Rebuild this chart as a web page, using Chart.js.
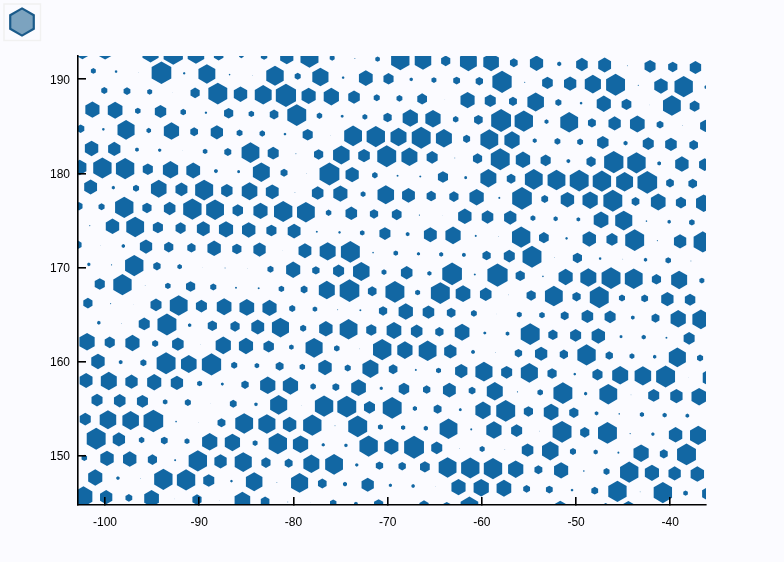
<!DOCTYPE html>
<html>
<head>
<meta charset="utf-8">
<title>Hexbin</title>
<script src="https://cdn.jsdelivr.net/npm/chart.js@4/dist/chart.umd.min.js"></script>
<style>
html, body { margin: 0; padding: 0; background: #fbfbff; }
canvas { display: block; }
</style>
</head>
<body>
<canvas id="hexChart" width="784" height="562"></canvas>
<script>
// Bin centres, one line per row of the hex layout
const hexX = [
-102.40,-99.99,-97.58,-95.17,-92.76,-90.35,-87.94,-85.53,-83.12,-80.71,-78.30,-75.89,-73.48,-71.07,-68.66,-66.25,-63.84,-61.43,-59.02,-56.61,-54.20,-51.79,-49.38,-46.97,-44.56,-42.15,-39.74,-37.33,
-101.24,-98.83,-96.42,-94.01,-91.60,-89.19,-86.78,-84.37,-81.96,-79.55,-77.14,-74.73,-72.32,-69.91,-67.50,-65.09,-62.68,-60.27,-57.86,-55.45,-53.04,-50.63,-48.22,-45.81,-43.40,-40.99,-38.58,-36.17,
-100.08,-97.67,-95.26,-92.85,-90.44,-88.03,-85.62,-83.21,-80.80,-78.39,-75.98,-73.57,-71.16,-68.75,-66.34,-63.93,-61.52,-59.11,-56.70,-54.29,-51.88,-49.47,-47.06,-44.65,-42.24,-39.83,-37.42,
-101.34,-98.93,-96.52,-94.11,-91.70,-89.29,-86.88,-84.47,-82.06,-79.65,-77.24,-74.83,-72.42,-70.01,-67.60,-65.19,-62.78,-60.37,-57.96,-55.55,-53.14,-50.73,-48.32,-45.91,-43.50,-41.09,-38.68,-36.27,
-102.59,-100.18,-97.77,-95.36,-92.95,-90.54,-88.13,-85.72,-83.31,-80.90,-78.49,-76.08,-73.67,-71.26,-68.85,-66.44,-64.03,-61.62,-59.21,-56.80,-54.39,-51.98,-49.57,-47.16,-44.75,-42.34,-39.93,-37.52,
-101.43,-99.02,-96.61,-94.20,-91.79,-89.38,-86.97,-84.56,-82.15,-79.74,-77.33,-74.92,-72.51,-70.10,-67.69,-65.28,-62.87,-60.46,-58.05,-55.64,-53.23,-50.82,-48.41,-46.00,-43.59,-41.18,-38.77,-36.36,
-102.69,-100.28,-97.87,-95.46,-93.05,-90.64,-88.23,-85.82,-83.41,-81.00,-78.59,-76.18,-73.77,-71.36,-68.95,-66.54,-64.13,-61.72,-59.31,-56.90,-54.49,-52.08,-49.67,-47.26,-44.85,-42.44,-40.03,-37.62,
-101.53,-99.12,-96.71,-94.30,-91.89,-89.48,-87.07,-84.66,-82.25,-79.84,-77.43,-75.02,-72.61,-70.20,-67.79,-65.38,-62.97,-60.56,-58.15,-55.74,-53.33,-50.92,-48.51,-46.10,-43.69,-41.28,-38.87,-36.46,
-102.78,-100.37,-97.96,-95.55,-93.14,-90.73,-88.32,-85.91,-83.50,-81.09,-78.68,-76.27,-73.86,-71.45,-69.04,-66.63,-64.22,-61.81,-59.40,-56.99,-54.58,-52.17,-49.76,-47.35,-44.94,-42.53,-40.12,-37.71,
-101.62,-99.21,-96.80,-94.39,-91.98,-89.57,-87.16,-84.75,-82.34,-79.93,-77.52,-75.11,-72.70,-70.29,-67.88,-65.47,-63.06,-60.65,-58.24,-55.83,-53.42,-51.01,-48.60,-46.19,-43.78,-41.37,-38.96,-36.55,
-102.88,-100.47,-98.06,-95.65,-93.24,-90.83,-88.42,-86.01,-83.60,-81.19,-78.78,-76.37,-73.96,-71.55,-69.14,-66.73,-64.32,-61.91,-59.50,-57.09,-54.68,-52.27,-49.86,-47.45,-45.04,-42.63,-40.22,-37.81,
-101.72,-99.31,-96.90,-94.49,-92.08,-89.67,-87.26,-84.85,-82.44,-80.03,-77.62,-75.21,-72.80,-70.39,-67.98,-65.57,-63.16,-60.75,-58.34,-55.93,-53.52,-51.11,-48.70,-46.29,-43.88,-41.47,-39.06,-36.65,
-100.56,-98.15,-95.74,-93.33,-90.92,-88.51,-86.10,-83.69,-81.28,-78.87,-76.46,-74.05,-71.64,-69.23,-66.82,-64.41,-62.00,-59.59,-57.18,-54.77,-52.36,-49.95,-47.54,-45.13,-42.72,-40.31,-37.90,
-101.82,-99.41,-97.00,-94.59,-92.18,-89.77,-87.36,-84.95,-82.54,-80.13,-77.72,-75.31,-72.90,-70.49,-68.08,-65.67,-63.26,-60.85,-58.44,-56.03,-53.62,-51.21,-48.80,-46.39,-43.98,-41.57,-39.16,-36.75,
-100.66,-98.25,-95.84,-93.43,-91.02,-88.61,-86.20,-83.79,-81.38,-78.97,-76.56,-74.15,-71.74,-69.33,-66.92,-64.51,-62.10,-59.69,-57.28,-54.87,-52.46,-50.05,-47.64,-45.23,-42.82,-40.41,-38.00,
-101.91,-99.50,-97.09,-94.68,-92.27,-89.86,-87.45,-85.04,-82.63,-80.22,-77.81,-75.40,-72.99,-70.58,-68.17,-65.76,-63.35,-60.94,-58.53,-56.12,-53.71,-51.30,-48.89,-46.48,-44.07,-41.66,-39.25,-36.84,
-100.75,-98.34,-95.93,-93.52,-91.11,-88.70,-86.29,-83.88,-81.47,-79.06,-76.65,-74.24,-71.83,-69.42,-67.01,-64.60,-62.19,-59.78,-57.37,-54.96,-52.55,-50.14,-47.73,-45.32,-42.91,-40.50,-38.09,-35.68,
-102.01,-99.60,-97.19,-94.78,-92.37,-89.96,-87.55,-85.14,-82.73,-80.32,-77.91,-75.50,-73.09,-70.68,-68.27,-65.86,-63.45,-61.04,-58.63,-56.22,-53.81,-51.40,-48.99,-46.58,-44.17,-41.76,-39.35,-36.94,
-100.85,-98.44,-96.03,-93.62,-91.21,-88.80,-86.39,-83.98,-81.57,-79.16,-76.75,-74.34,-71.93,-69.52,-67.11,-64.70,-62.29,-59.88,-57.47,-55.06,-52.65,-50.24,-47.83,-45.42,-43.01,-40.60,-38.19,-35.78,
-102.10,-99.69,-97.28,-94.87,-92.46,-90.05,-87.64,-85.23,-82.82,-80.41,-78.00,-75.59,-73.18,-70.77,-68.36,-65.95,-63.54,-61.13,-58.72,-56.31,-53.90,-51.49,-49.08,-46.67,-44.26,-41.85,-39.44,-37.03,
-100.94,-98.53,-96.12,-93.71,-91.30,-88.89,-86.48,-84.07,-81.66,-79.25,-76.84,-74.43,-72.02,-69.61,-67.20,-64.79,-62.38,-59.97,-57.56,-55.15,-52.74,-50.33,-47.92,-45.51,-43.10,-40.69,-38.28,
-102.20,-99.79,-97.38,-94.97,-92.56,-90.15,-87.74,-85.33,-82.92,-80.51,-78.10,-75.69,-73.28,-70.87,-68.46,-66.05,-63.64,-61.23,-58.82,-56.41,-54.00,-51.59,-49.18,-46.77,-44.36,-41.95,-39.54,-37.13,
-101.04,-98.63,-96.22,-93.81,-91.40,-88.99,-86.58,-84.17,-81.76,-79.35,-76.94,-74.53,-72.12,-69.71,-67.30,-64.89,-62.48,-60.07,-57.66,-55.25,-52.84,-50.43,-48.02,-45.61,-43.20,-40.79,-38.38,-35.97,
-102.29,-99.88,-97.47,-95.06,-92.65,-90.24,-87.83,-85.42,-83.01,-80.60,-78.19,-75.78,-73.37,-70.96,-68.55,-66.14,-63.73,-61.32,-58.91,-56.50,-54.09,-51.68,-49.27,-46.86,-44.45
];
const hexY = [
192.97,192.91,192.84,192.78,192.72,192.65,192.59,192.52,192.46,192.40,192.33,192.27,192.21,192.14,192.08,192.01,191.95,191.89,191.82,191.76,191.70,191.63,191.57,191.51,191.44,191.38,191.31,191.25,
190.88,190.82,190.75,190.69,190.63,190.56,190.50,190.43,190.37,190.31,190.24,190.18,190.12,190.05,189.99,189.92,189.86,189.80,189.73,189.67,189.61,189.54,189.48,189.42,189.35,189.29,189.22,189.16,
188.80,188.74,188.67,188.61,188.55,188.48,188.42,188.35,188.29,188.23,188.16,188.10,188.04,187.97,187.91,187.84,187.78,187.72,187.65,187.59,187.53,187.46,187.40,187.34,187.27,187.21,187.14,
186.77,186.71,186.64,186.58,186.52,186.45,186.39,186.32,186.26,186.20,186.13,186.07,186.01,185.94,185.88,185.81,185.75,185.69,185.62,185.56,185.50,185.43,185.37,185.31,185.24,185.18,185.11,185.05,
184.75,184.69,184.62,184.56,184.50,184.43,184.37,184.30,184.24,184.18,184.11,184.05,183.99,183.92,183.86,183.79,183.73,183.67,183.60,183.54,183.48,183.41,183.35,183.29,183.22,183.16,183.09,183.03,
182.66,182.60,182.53,182.47,182.41,182.34,182.28,182.21,182.15,182.09,182.02,181.96,181.90,181.83,181.77,181.70,181.64,181.58,181.51,181.45,181.39,181.32,181.26,181.20,181.13,181.07,181.00,180.94,
180.64,180.58,180.51,180.45,180.39,180.32,180.26,180.19,180.13,180.07,180.00,179.94,179.88,179.81,179.75,179.68,179.62,179.56,179.49,179.43,179.37,179.30,179.24,179.18,179.11,179.05,178.98,178.92,
178.56,178.50,178.43,178.37,178.31,178.24,178.18,178.11,178.05,177.99,177.92,177.86,177.80,177.73,177.67,177.60,177.54,177.48,177.41,177.35,177.29,177.22,177.16,177.10,177.03,176.97,176.90,176.84,
176.53,176.47,176.40,176.34,176.28,176.21,176.15,176.08,176.02,175.96,175.89,175.83,175.77,175.70,175.64,175.57,175.51,175.45,175.38,175.32,175.26,175.19,175.13,175.07,175.00,174.94,174.87,174.81,
174.45,174.39,174.32,174.26,174.20,174.13,174.07,174.00,173.94,173.88,173.81,173.75,173.69,173.62,173.56,173.49,173.43,173.37,173.30,173.24,173.18,173.11,173.05,172.99,172.92,172.86,172.79,172.73,
172.43,172.37,172.30,172.24,172.18,172.11,172.05,171.98,171.92,171.86,171.79,171.73,171.67,171.60,171.54,171.47,171.41,171.35,171.28,171.22,171.16,171.09,171.03,170.97,170.90,170.84,170.77,170.71,
170.35,170.29,170.22,170.16,170.10,170.03,169.97,169.90,169.84,169.78,169.71,169.65,169.59,169.52,169.46,169.39,169.33,169.27,169.20,169.14,169.08,169.01,168.95,168.89,168.82,168.76,168.69,168.63,
168.26,168.19,168.13,168.07,168.00,167.94,167.87,167.81,167.75,167.68,167.62,167.56,167.49,167.43,167.36,167.30,167.24,167.17,167.11,167.05,166.98,166.92,166.86,166.79,166.73,166.66,166.60,
166.23,166.17,166.10,166.04,165.98,165.91,165.85,165.78,165.72,165.66,165.59,165.53,165.47,165.40,165.34,165.27,165.21,165.15,165.08,165.02,164.96,164.89,164.83,164.77,164.70,164.64,164.57,164.51,
164.15,164.08,164.02,163.96,163.89,163.83,163.76,163.70,163.64,163.57,163.51,163.45,163.38,163.32,163.25,163.19,163.13,163.06,163.00,162.94,162.87,162.81,162.75,162.68,162.62,162.55,162.49,
162.13,162.07,162.00,161.94,161.88,161.81,161.75,161.68,161.62,161.56,161.49,161.43,161.37,161.30,161.24,161.17,161.11,161.05,160.98,160.92,160.86,160.79,160.73,160.67,160.60,160.54,160.47,160.41,
160.04,159.97,159.91,159.85,159.78,159.72,159.65,159.59,159.53,159.46,159.40,159.34,159.27,159.21,159.14,159.08,159.02,158.95,158.89,158.83,158.76,158.70,158.64,158.57,158.51,158.44,158.38,158.32,
158.02,157.96,157.89,157.83,157.77,157.70,157.64,157.57,157.51,157.45,157.38,157.32,157.26,157.19,157.13,157.06,157.00,156.94,156.87,156.81,156.75,156.68,156.62,156.56,156.49,156.43,156.36,156.30,
155.94,155.87,155.81,155.75,155.68,155.62,155.55,155.49,155.43,155.36,155.30,155.24,155.17,155.11,155.04,154.98,154.92,154.85,154.79,154.73,154.66,154.60,154.54,154.47,154.41,154.34,154.28,154.22,
153.91,153.85,153.78,153.72,153.66,153.59,153.53,153.46,153.40,153.34,153.27,153.21,153.15,153.08,153.02,152.95,152.89,152.83,152.76,152.70,152.64,152.57,152.51,152.45,152.38,152.32,152.25,152.19,
151.83,151.76,151.70,151.64,151.57,151.51,151.44,151.38,151.32,151.25,151.19,151.13,151.06,151.00,150.93,150.87,150.81,150.74,150.68,150.62,150.55,150.49,150.43,150.36,150.30,150.23,150.17,
149.81,149.75,149.68,149.62,149.56,149.49,149.43,149.36,149.30,149.24,149.17,149.11,149.05,148.98,148.92,148.85,148.79,148.73,148.66,148.60,148.54,148.47,148.41,148.35,148.28,148.22,148.15,148.09,
147.72,147.65,147.59,147.53,147.46,147.40,147.33,147.27,147.21,147.14,147.08,147.02,146.95,146.89,146.82,146.76,146.70,146.63,146.57,146.51,146.44,146.38,146.32,146.25,146.19,146.12,146.06,146.00,
145.69,145.63,145.56,145.50,145.44,145.37,145.31,145.24,145.18,145.12,145.05,144.99,144.93,144.86,144.80,144.73,144.67,144.61,144.54,144.48,144.42,144.35,144.29,144.23,144.16
];
// Bin weight of each hexagon, same order as hexX / hexY
const hexValue = [
75,73,2,88,105,90,52,25,35,72,98,27,5,25,100,90,50,92,85,42,72,22,63,70,4,60,50,62,
27,13,2,107,12,92,8,3,95,33,88,13,75,55,18,27,37,40,105,5,58,67,88,103,5,73,100,20,
33,37,27,2,50,103,73,92,110,77,83,63,33,32,53,2,77,60,43,90,33,13,77,53,2,97,53,
77,80,30,62,30,12,50,30,47,103,30,15,27,45,83,83,30,47,108,100,22,97,43,67,80,37,3,58,
40,13,93,25,83,42,67,32,30,13,55,2,97,100,87,103,87,38,97,83,22,32,32,62,22,60,63,47,
73,67,20,17,2,25,38,97,60,5,50,90,63,103,87,60,4,50,103,78,55,20,50,105,100,20,73,60,
73,100,100,55,83,75,20,15,92,38,3,108,72,30,10,10,55,15,87,47,97,97,103,100,92,107,42,47,
70,17,33,85,65,98,62,85,70,4,63,77,27,90,70,50,50,78,10,107,37,73,83,103,42,80,55,83,
40,33,100,50,63,100,97,57,77,100,97,30,63,45,53,6,2,73,63,67,27,23,20,80,93,8,18,30,
6,73,97,55,55,70,77,73,55,70,10,13,25,60,20,70,83,10,3,100,53,13,73,60,103,6,67,100,
40,2,18,67,50,45,73,50,67,2,70,87,103,8,25,17,22,20,45,60,103,3,50,13,3,18,30,4,
17,6,100,40,25,2,5,2,33,77,40,60,90,27,63,23,107,10,110,50,8,77,87,103,97,50,87,27,
55,100,3,30,50,33,10,10,30,37,87,107,47,103,27,103,80,63,3,50,97,45,103,33,37,67,57,
50,6,2,60,97,60,80,80,77,33,25,5,10,45,78,63,47,32,2,27,30,43,63,60,20,43,83,93,
18,3,60,103,18,50,50,70,93,33,73,97,55,80,63,45,80,15,20,103,50,60,73,15,23,10,60,
83,55,77,33,63,2,83,77,57,25,93,30,3,100,83,97,67,20,3,40,67,45,100,40,27,18,93,33,
73,20,33,103,85,105,33,25,43,30,73,33,87,47,10,27,67,93,60,93,50,13,55,87,90,103,2,90,
70,87,67,77,67,27,15,40,83,83,30,37,80,17,57,40,70,37,87,6,30,103,17,97,3,60,67,83,
60,63,60,25,33,2,37,18,93,2,100,103,60,103,23,43,15,83,103,50,80,50,20,8,23,23,20,33,
60,90,90,107,8,2,43,97,93,73,100,4,103,27,23,23,97,10,83,60,3,103,50,103,6,17,73,90,
103,67,30,37,27,83,83,27,100,83,17,18,100,77,108,60,3,28,3,63,90,33,23,10,83,43,103,
30,73,73,50,10,100,67,93,50,43,87,97,17,40,40,53,97,100,100,83,43,77,8,33,100,77,67,73,
77,18,3,100,100,60,13,90,4,93,47,22,67,17,18,2,77,83,80,37,37,13,37,100,4,100,25,67,
97,67,37,80,2,50,2,85,47,4,2,35,20,50,2,50,40,96,2,2,2,80,2,70,95
];
const xTicks = [-100, -90, -80, -70, -60, -50, -40];
const yTicks = [150, 160, 170, 180, 190];

const hexColor = '#1267a3';
const radiusPerValue = 0.106;

function hexPath(ctx, cx, cy, r) {
    ctx.beginPath();
    for (let i = 0; i < 6; i++) {
        const a = Math.PI / 3 * i - Math.PI / 2;
        ctx.lineTo(cx + r * Math.cos(a), cy + r * Math.sin(a));
    }
    ctx.closePath();
}

// Chart.js has no hexagon point style, so draw one on each point the scatter controller placed
const hexMarks = {
    id: 'hexMarks',
    afterDatasetsDraw(chart) {
        const ctx = chart.ctx;
        const area = chart.chartArea;
        ctx.save();
        ctx.beginPath();
        ctx.rect(area.left, area.top, area.right - area.left, area.bottom - area.top);
        ctx.clip();
        ctx.fillStyle = hexColor;
        chart.getDatasetMeta(0).data.forEach((point, i) => {
            hexPath(ctx, point.x, point.y, hexValue[i] * radiusPerValue);
            ctx.fill();
        });
        ctx.restore();
    }
};

// Small key box in the top left corner
const legendKey = {
    id: 'legendKey',
    afterDraw(chart) {
        const ctx = chart.ctx;
        ctx.save();
        ctx.strokeStyle = '#f1f1f1';
        ctx.lineWidth = 1.5;
        ctx.strokeRect(4, 4, 36.5, 36.5);
        hexPath(ctx, 22, 22, 13.6);
        ctx.fillStyle = '#7ca3bf';
        ctx.fill();
        ctx.strokeStyle = '#1a5a8a';
        ctx.lineWidth = 2.2;
        ctx.stroke();
        ctx.restore();
    }
};

const tickFont = { family: "'Liberation Sans', Arial, sans-serif", size: 12 };

new Chart(document.getElementById('hexChart'), {
    type: 'scatter',
    data: {
        datasets: [{
            data: hexX.map((x, i) => ({ x: x, y: hexY[i] })),
            pointRadius: 0,
            clip: 0
        }]
    },
    plugins: [hexMarks, legendKey],
    options: {
        responsive: false,
        animation: false,
        events: [],
        layout: { padding: { left: 0, top: 56, right: 78, bottom: 0 } },
        plugins: { legend: { display: false }, tooltip: { enabled: false } },
        scales: {
            x: {
                type: 'linear',
                min: -102.87,
                max: -36.21,
                afterFit: scale => { scale.height = 57; },
                afterBuildTicks: scale => { scale.ticks = xTicks.map(v => ({ value: v })); },
                border: { display: true, color: '#000', width: 1.6, z: 1 },
                grid: { drawOnChartArea: false, drawTicks: true, tickLength: -8, color: '#000', lineWidth: 1.6, z: 1 },
                ticks: { color: '#000', font: tickFont, padding: 18, maxRotation: 0, autoSkip: false, callback: v => String(v) }
            },
            y: {
                type: 'linear',
                min: 144.8,
                max: 192.47,
                afterFit: scale => { scale.width = 78; },
                afterBuildTicks: scale => { scale.ticks = yTicks.map(v => ({ value: v })); },
                border: { display: true, color: '#000', width: 1.6, z: 1 },
                grid: { drawOnChartArea: false, drawTicks: true, tickLength: -8, color: '#000', lineWidth: 1.6, z: 1 },
                ticks: { color: '#000', font: tickFont, padding: 16, autoSkip: false, labelOffset: 1, callback: v => String(v) }
            }
        }
    }
});
</script>
</body>
</html>
